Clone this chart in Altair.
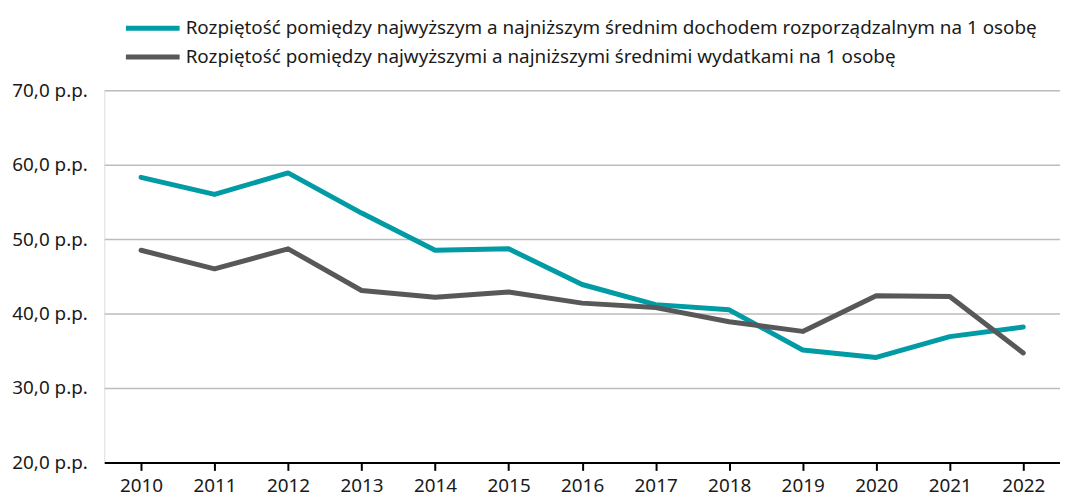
import altair as alt
import pandas as pd

years = [str(y) for y in range(2010, 2023)]
income = [58.3, 56.0, 58.9, 53.5, 48.5, 48.7, 43.9, 41.2, 40.5, 35.1, 34.1, 36.9, 38.2]
spending = [48.5, 46.0, 48.7, 43.1, 42.2, 42.9, 41.4, 40.8, 38.9, 37.6, 42.4, 42.3, 34.7]
s_income = "Rozpiętość pomiędzy najwyższym a najniższym średnim dochodem rozporządzalnym na 1 osobę"
s_spend = "Rozpiętość pomiędzy najwyższymi a najniższymi średnimi wydatkami na 1 osobę"
y_ticks = [20, 30, 40, 50, 60, 70]

df = pd.DataFrame(
    [{"rok": y, "seria": s_income, "v": v} for y, v in zip(years, income)]
    + [{"rok": y, "seria": s_spend, "v": v} for y, v in zip(years, spending)]
)

FONT = "Noto Sans"
FS = 19

chart = alt.Chart(df).mark_line(strokeWidth=5, strokeCap="round", strokeJoin="round").encode(
    x=alt.X("rok:N", sort=years, title=None,
            scale=alt.Scale(paddingInner=0, paddingOuter=0),
            axis=alt.Axis(labelAngle=0, domainColor="#000000", domainWidth=2,
                          tickColor="#000000", tickWidth=2, tickSize=8,
                          bandPosition=0, labelFontSize=FS, labelColor="#1a1a1a",
                          labelPadding=6, labelFont=FONT)),
    y=alt.Y("v:Q", title=None,
            scale=alt.Scale(domain=[20, 70], nice=False, zero=False),
            axis=alt.Axis(values=y_ticks, domain=False, ticks=False,
                          gridColor="#BDBDBD", gridWidth=1.5,
                          labelExpr="replace(format(datum.value, '.1f'), '.', ',') + ' p.p.'",
                          labelFontSize=FS, labelColor="#1a1a1a", labelPadding=17,
                          labelFont=FONT)),
    color=alt.Color("seria:N", sort=[s_income, s_spend],
                    scale=alt.Scale(domain=[s_income, s_spend], range=["#009BA4", "#58585A"]),
                    legend=alt.Legend(title=None, orient="none", legendX=61, legendY=-72,
                                      symbolType="M-9,0H1", symbolSize=117, symbolStrokeWidth=5,
                                      labelFontSize=FS, labelFont=FONT, labelColor="#1a1a1a",
                                      rowPadding=8, labelLimit=1000,
                                      labelOffset=2)),
).properties(
    width=963, height=375,
    autosize=alt.AutoSizeParams(type="none"),
    padding={"left": 97, "top": 81, "right": 0, "bottom": 36},
).configure_view(stroke=None).configure(font=FONT)

chart.save("out.html", embed_options={"renderer": "svg", "actions": False})
